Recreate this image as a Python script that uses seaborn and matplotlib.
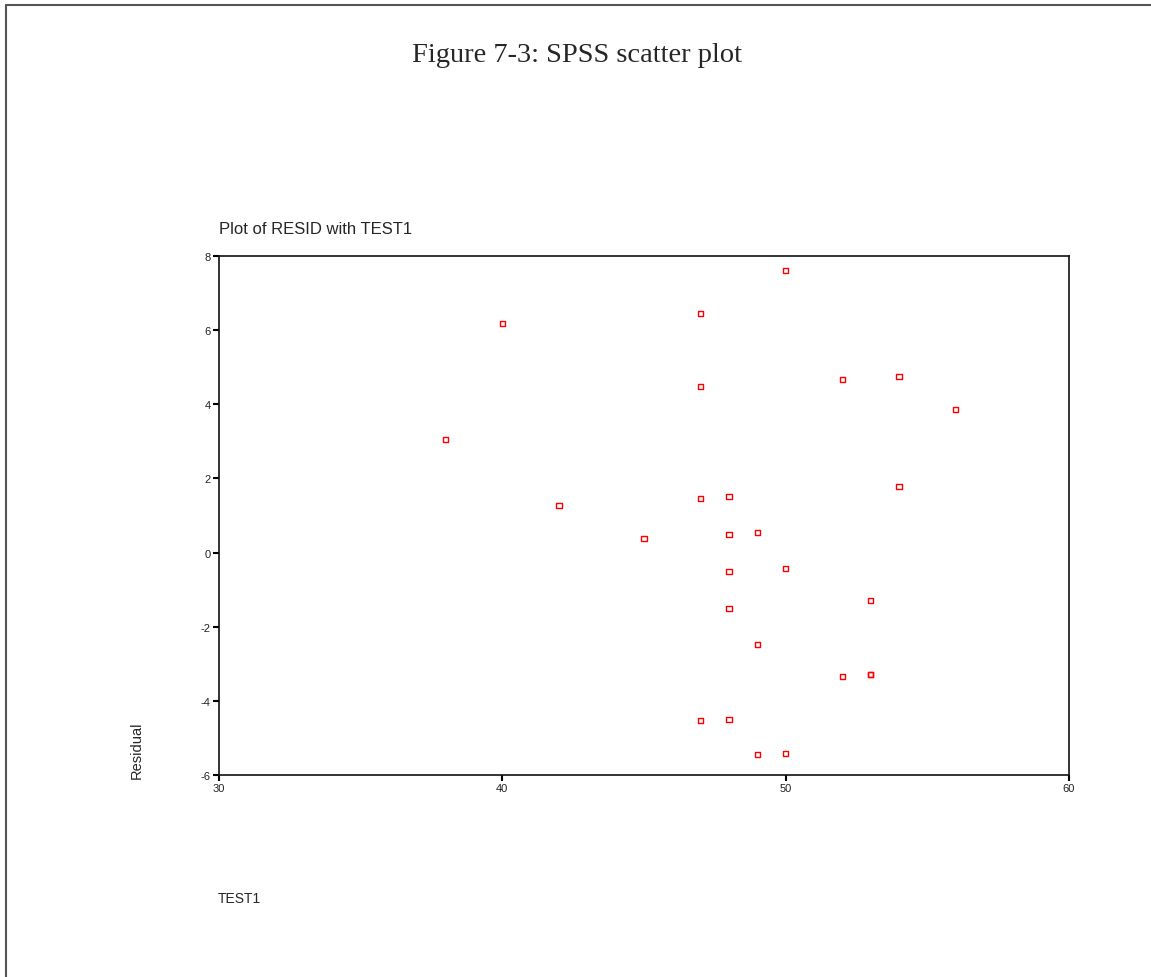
import numpy as np
import pandas as pd
import seaborn as sns
import matplotlib.pyplot as plt
from matplotlib.lines import Line2D

# data
test1 = [38, 40, 42, 45, 47, 47, 47, 47, 48, 48, 48, 48, 48,
         49, 49, 49, 50, 50, 50, 52, 52, 53, 53, 53, 54, 54, 56]
resid = [3.06, 6.17, 1.26, 0.37, 6.46, 4.47, 1.45, -4.54, 1.50, 0.50, -0.50, -1.50, -4.49,
         0.55, -2.47, -5.46, 7.60, -0.42, -5.41, 4.68, -3.33, -1.28, -3.30, -3.28, 4.76, 1.77, 3.85]
x_ticks = [30, 40, 50, 60]
y_ticks = [-6, -4, -2, 0, 2, 4, 6, 8]

df = pd.DataFrame({'TEST1': test1, 'RESID': resid})

sns.set_style('white')
plt.rcParams['font.family'] = ['Liberation Sans', 'DejaVu Sans']

W, H = 1151, 978
fig = plt.figure(figsize=(W / 100, H / 100), dpi=100)
ax = fig.add_axes([219 / W, 1 - 776 / H, (1069 - 219) / W, (776 - 257) / H])

sns.scatterplot(x='TEST1', y='RESID', data=df, ax=ax, marker='s', s=13,
                facecolor='none', edgecolor='red', linewidth=1.0)

ax.set_xlim(30, 60)
ax.set_ylim(-6, 8)
ax.set_xticks(x_ticks)
ax.set_yticks(y_ticks)
ax.set_xticklabels([str(t) for t in x_ticks], fontsize=8)
ax.set_yticklabels([str(t) for t in y_ticks], fontsize=8)
ax.tick_params(axis='both', direction='out', length=4, width=1.5, pad=2,
               color='black', labelcolor='#222222', bottom=True, left=True)
ax.set_xlabel('')
ax.set_ylabel('')
for sp in ax.spines.values():
    sp.set_color('#111111')
    sp.set_linewidth(1.2)
    sp.set_visible(True)

# page-like texts
fig.text(577 / W, 1 - 55 / H, 'Figure 7-3: SPSS scatter plot', ha='center', va='center',
         fontsize=20.5, family=['Liberation Serif', 'DejaVu Serif'])
fig.text(219 / W, 1 - 229 / H, 'Plot of RESID with TEST1', ha='left', va='center', fontsize=12)
fig.text(137 / W, 1 - 750 / H, 'Residual', ha='center', va='center', rotation=90, fontsize=10.5)
fig.text(218 / W, 1 - 899 / H, 'TEST1', ha='left', va='center', fontsize=10)

# frame around the page (top and left edges)
fig.add_artist(Line2D([6 / W, 1.0], [1 - 6 / H, 1 - 6 / H], transform=fig.transFigure,
                      color='#555555', linewidth=1.5))
fig.add_artist(Line2D([6 / W, 6 / W], [0.0, 1 - 6 / H], transform=fig.transFigure,
                      color='#555555', linewidth=1.5))

plt.savefig('out.png', dpi=100)
